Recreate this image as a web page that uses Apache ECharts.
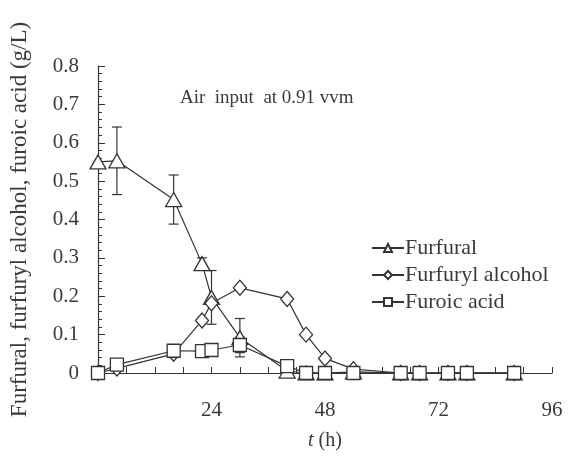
<!DOCTYPE html>
<html>
<head>
<meta charset="utf-8">
<script src="https://cdn.jsdelivr.net/npm/echarts@6/dist/echarts.min.js"></script>
<style>
    html, body { margin: 0; padding: 0; background: #fff; }
    #chart { width: 570px; height: 459px; }
</style>
</head>
<body>
<div id="chart"></div>
<script>
// 采样时间 (h)
var hours = [0, 4, 16, 22, 24, 30, 40, 44, 48, 54, 64, 68, 74, 78, 88];
// 各物质浓度 (g/L)
var furfural = [0.55, 0.553, 0.452, 0.285, 0.197, 0.092, 0.005, 0, 0, 0.003, 0, 0, 0, 0, 0];
var furfurylAlcohol = [0, 0.012, 0.05, 0.137, 0.182, 0.222, 0.193, 0.1, 0.038, 0.01, 0, 0, 0, 0, 0];
var furoicAcid = [0, 0.022, 0.058, 0.057, 0.06, 0.073, 0.018, 0, 0, 0, 0, 0, 0, 0, 0];
// 误差 (±)
var furfuralErr = [0, 0.088, 0.064, 0.015, 0.07, 0.05, 0, 0, 0, 0, 0, 0, 0, 0, 0];
var furoicAcidErr = [0, 0, 0, 0, 0, 0.02, 0, 0, 0, 0, 0, 0, 0, 0, 0];

var xTicks = [24, 48, 72, 96];
var seriesNames = ['Furfural', 'Furfuryl alcohol', 'Furoic acid'];

var lineColor = '#333';
var textColor = '#3a3a3a';
var fontFamily = '"Liberation Serif", "DejaVu Serif", serif';

function toPairs(values) {
    var arr = [];
    for (var i = 0; i < hours.length; i++) {
        arr.push([hours[i], values[i]]);
    }
    return arr;
}

function toErrBars(values, errs) {
    var arr = [];
    for (var i = 0; i < hours.length; i++) {
        if (errs[i] > 0) {
            arr.push([hours[i], values[i] - errs[i], values[i] + errs[i]]);
        }
    }
    return arr;
}

/**
 * 误差线绘制
 * */
function renderErrBar(params, api) {
    var low = api.coord([api.value(0), api.value(1)]);
    var high = api.coord([api.value(0), api.value(2)]);
    var half = 5;
    var style = {stroke: lineColor, lineWidth: 1.2};
    return {
        type: 'group',
        children: [
            {type: 'line', shape: {x1: low[0], y1: low[1], x2: high[0], y2: high[1]}, style: style},
            {type: 'line', shape: {x1: low[0] - half, y1: low[1], x2: low[0] + half, y2: low[1]}, style: style},
            {type: 'line', shape: {x1: high[0] - half, y1: high[1], x2: high[0] + half, y2: high[1]}, style: style}
        ]
    };
}

function lineSeries(name, values, symbol, size) {
    return {
        name: name,
        type: 'line',
        data: toPairs(values),
        symbol: symbol,
        symbolSize: size,
        showAllSymbol: true,
        clip: false,
        lineStyle: {color: lineColor, width: 1.2},
        itemStyle: {color: '#fff', borderColor: lineColor, borderWidth: 1.3},
        z: 3
    };
}

var chart = echarts.init(document.getElementById('chart'), null, {renderer: 'canvas'});

var option = {
    animation: false,
    backgroundColor: '#fff',
    textStyle: {fontFamily: fontFamily, color: textColor},
    grid: {left: 98, right: 18, top: 66, bottom: 86},
    graphic: [
        {
            type: 'text',
            left: 180,
            top: 89,
            style: {text: 'Air  input  at 0.91 vvm', font: '19px ' + fontFamily, fill: textColor}
        }
    ],
    legend: {
        orient: 'vertical',
        left: 366,
        top: 232,
        itemWidth: 32,
        itemHeight: 10,
        itemGap: 5,
        data: seriesNames,
        textStyle: {fontFamily: fontFamily, fontSize: 22, lineHeight: 22, color: textColor, padding: [0, 0, 0, -4]}
    },
    xAxis: {
        type: 'value',
        min: 0,
        max: 96,
        interval: 24,
        name: '{i|t} (h)',
        nameLocation: 'middle',
        nameGap: 58,
        nameTextStyle: {
            fontSize: 20, color: textColor, fontFamily: fontFamily,
            rich: {i: {fontStyle: 'italic', fontSize: 20, fontFamily: fontFamily, color: textColor}}
        },
        axisLine: {lineStyle: {color: lineColor, width: 1.2}},
        axisTick: {inside: true, length: 6, lineStyle: {color: lineColor}},
        minorTick: {show: true, splitNumber: 4, length: 6, lineStyle: {color: lineColor}},
        splitLine: {show: false},
        axisLabel: {
            fontSize: 21, color: textColor, margin: 27, fontFamily: fontFamily,
            formatter: function (v) { return xTicks.indexOf(v) >= 0 ? String(v) : ''; }
        }
    },
    yAxis: {
        type: 'value',
        min: 0,
        max: 0.8,
        interval: 0.1,
        name: 'Furfural, furfuryl alcohol, furoic acid (g/L)',
        nameLocation: 'middle',
        nameRotate: 90,
        nameGap: 67,
        nameTextStyle: {fontSize: 23, color: textColor, fontFamily: fontFamily},
        axisLine: {show: true, lineStyle: {color: lineColor, width: 1.2}},
        axisTick: {show: true, inside: true, length: 7, lineStyle: {color: lineColor}},
        minorTick: {show: true, splitNumber: 5, length: 4, lineStyle: {color: lineColor}},
        splitLine: {show: false},
        axisLabel: {
            fontSize: 21, color: textColor, margin: 19, fontFamily: fontFamily,
            formatter: function (v) { return v === 0 ? '0' : v.toFixed(1); }
        }
    },
    series: [
        lineSeries(seriesNames[0], furfural, 'triangle', [16, 14]),
        lineSeries(seriesNames[1], furfurylAlcohol, 'diamond', [13, 15]),
        lineSeries(seriesNames[2], furoicAcid, 'rect', [13, 13]),
        {
            type: 'custom',
            renderItem: renderErrBar,
            data: toErrBars(furfural, furfuralErr),
            clip: false,
            z: 2
        },
        {
            type: 'custom',
            renderItem: renderErrBar,
            data: toErrBars(furoicAcid, furoicAcidErr),
            clip: false,
            z: 2
        }
    ]
};

chart.setOption(option);
</script>
</body>
</html>
